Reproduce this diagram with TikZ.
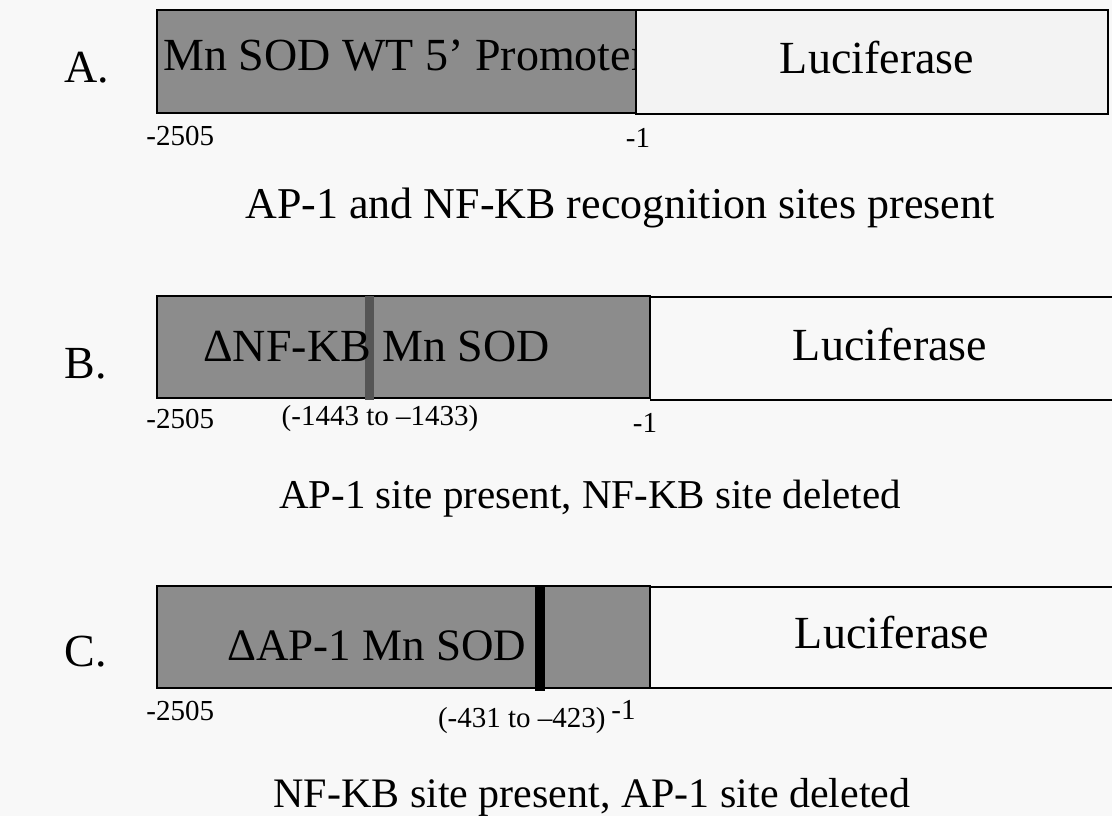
\documentclass[tikz,border=0pt]{standalone}
\usepackage{fontspec}
\setmainfont{Liberation Serif}
\usepackage{tikz}

\definecolor{promgray}{RGB}{140,140,140}
\definecolor{lucwhite}{RGB}{243,243,243}
\definecolor{sitegray}{RGB}{85,85,85}
\definecolor{paper}{RGB}{248,248,248}

\begin{document}
\begin{tikzpicture}[x=0.5pt,y=-0.5pt,
  promoter/.style={draw=black,line width=1.2pt,fill=promgray},
  reporter/.style={draw=black,line width=1.2pt,fill=lucwhite},
  boxtext/.style={font=\fontsize{23}{27}\selectfont,inner sep=0pt},
  numtext/.style={font=\fontsize{14.5}{17}\selectfont,inner sep=0pt},
  captext/.style={font=\fontsize{22}{26}\selectfont,inner sep=0pt}]
  \fill[paper] (0,0) rectangle (1112,816);
  \useasboundingbox (0,0) rectangle (1112,816);

  % A. wild type promoter
  \node[boxtext,anchor=base west] (labA) at (64,82) {A.};
  \draw[promoter] (157,10) rectangle (636,113);
  \node[boxtext,anchor=base west] (promA) at (163,70) {Mn SOD WT 5’ Promoter};
  \draw[reporter] (636,10) rectangle (1108,114);
  \node[boxtext,anchor=base] (lucA) at (877,73) {Luciferase};
  \node[numtext,anchor=base west] (startA) at (146,145) {-2505};
  \node[numtext,anchor=base] (endA) at (638,147) {-1};
  \node[captext,anchor=base] (capA) at (620,218) {AP-1 and NF-KB recognition sites present};

  % B. NF-KB site deleted
  \node[boxtext,anchor=base west] (labB) at (64,378) {B.};
  \draw[promoter] (157,296) rectangle (650,398);
  \fill[sitegray] (365,296) rectangle (374,400);
  \node[boxtext,anchor=base west] (promB) at (203,361) {ΔNF-KB Mn SOD};
  \draw[line width=1.2pt] (650,297) -- (1112,297);
  \draw[line width=1.2pt] (650,400) -- (1112,400);
  \node[boxtext,anchor=base] (lucB) at (890,360) {Luciferase};
  \node[numtext,anchor=base west] (startB) at (146,428) {-2505};
  \node[numtext,anchor=base] (siteB) at (380,425) {(-1443 to –1433)};
  \node[numtext,anchor=base] (endB) at (645,432) {-1};
  \node[captext,anchor=base,font=\fontsize{20.5}{24}\selectfont] (capB) at (590,508) {AP-1 site present, NF-KB site deleted};

  % C. AP-1 site deleted
  \node[boxtext,anchor=base west] (labC) at (64,666) {C.};
  \draw[promoter] (157,586) rectangle (650,688);
  \node[boxtext,anchor=base west,font=\fontsize{22.5}{27}\selectfont] (promC) at (227,660) {ΔAP-1 Mn SOD};
  \fill[black] (535,586) rectangle (545,691);
  \draw[line width=1.2pt] (650,587) -- (1112,587);
  \draw[line width=1.2pt] (650,688) -- (1112,688);
  \node[boxtext,anchor=base] (lucC) at (892,648) {Luciferase};
  \node[numtext,anchor=base west] (startC) at (146,720) {-2505};
  \node[numtext,anchor=base east] (siteC) at (606,727) {(-431 to –423)};
  \node[numtext,anchor=base west] (endC) at (611,719) {-1};
  \node[captext,anchor=base,font=\fontsize{21}{25}\selectfont] (capC) at (592,807) {NF-KB site present, AP-1 site deleted};
\end{tikzpicture}
\end{document}
